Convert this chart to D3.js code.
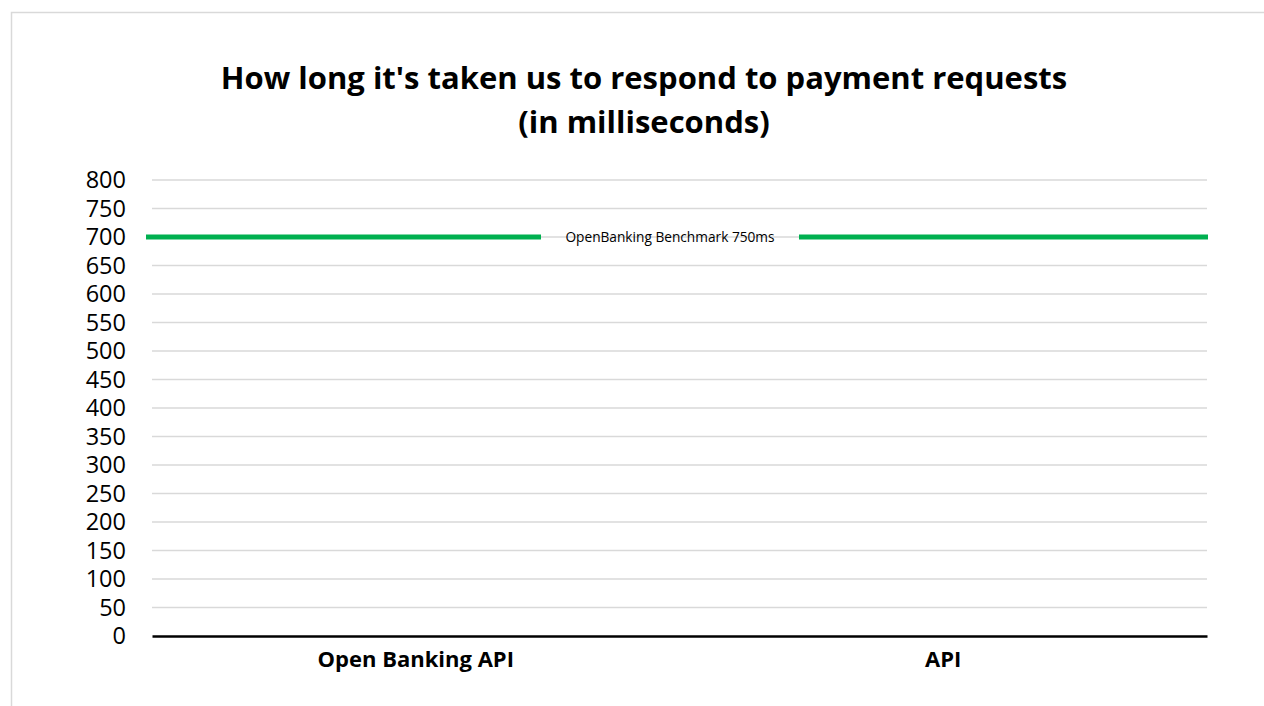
<!DOCTYPE html>
<html>
<head>
<meta charset="utf-8">
<script src="https://cdn.jsdelivr.net/npm/d3@7"></script>
<style>
  body { margin: 0; background: #fff; }
  svg { display: block; font-family: "Open Sans", sans-serif; }
</style>
</head>
<body>
<div id="chart"></div>
<script>
// Chart data
var categories = ["Open Banking API", "API"];
var responseTimes = [0, 0];
var benchmarkValue = 700;
var benchmarkLabel = "OpenBanking Benchmark 750ms";
var yTicks = d3.range(0, 801, 50);
var titleLines = ["How long it's taken us to respond to payment requests", "(in milliseconds)"];

var svgWidth = 1264;
var svgHeight = 706;

var margin = { top: 180, right: 57, bottom: 70, left: 152 };
var chartWidth = svgWidth - margin.left - margin.right;
var chartHeight = svgHeight - margin.top - margin.bottom;

var svg = d3.select("#chart")
    .append("svg")
    .attr("width", svgWidth)
    .attr("height", svgHeight);

// chart area border
svg.append("rect")
    .attr("x", 11.5)
    .attr("y", 12.5)
    .attr("width", svgWidth)
    .attr("height", svgHeight)
    .attr("fill", "none")
    .attr("stroke", "#d9d9d9")
    .attr("stroke-width", 1.5);

// title
svg.append("text")
    .attr("text-anchor", "middle")
    .attr("font-weight", "bold")
    .attr("font-size", 31)
    .attr("fill", "#000")
    .selectAll("tspan")
    .data(titleLines)
    .enter().append("tspan")
    .attr("x", 644)
    .attr("y", (d, i) => 89 + i * 44)
    .text(d => d);

var chartGroup = svg.append("g")
    .attr("transform", `translate(${margin.left}, ${margin.top})`);

var xScale = d3.scaleBand()
    .domain(categories)
    .range([0, chartWidth])
    .padding(0);

var yScale = d3.scaleLinear()
    .domain([0, 800])
    .range([chartHeight, 0]);

// gridlines
chartGroup.append("g")
    .selectAll("line")
    .data(yTicks.filter(d => d > 0))
    .enter().append("line")
    .attr("x1", 0)
    .attr("x2", chartWidth)
    .attr("y1", d => yScale(d))
    .attr("y2", d => yScale(d))
    .attr("stroke", "#d9d9d9")
    .attr("stroke-width", 1.5);

// left axis labels only
var leftAxis = d3.axisLeft(yScale).tickValues(yTicks).tickSize(0).tickPadding(26);
var yAxisG = chartGroup.append("g").call(leftAxis);
yAxisG.select(".domain").remove();
yAxisG.selectAll("text")
    .attr("font-family", "'Open Sans', sans-serif")
    .attr("font-size", 23.5)
    .attr("fill", "#000");

// bars (no visible height)
chartGroup.selectAll(".bar")
    .data(responseTimes)
    .enter().append("rect")
    .attr("class", "bar")
    .attr("x", (d, i) => xScale(categories[i]) + xScale.bandwidth() * 0.3)
    .attr("width", xScale.bandwidth() * 0.4)
    .attr("y", d => yScale(d))
    .attr("height", d => chartHeight - yScale(d))
    .attr("fill", "#4472c4");

// bottom axis
var bottomAxis = d3.axisBottom(xScale).tickSize(0).tickPadding(15);
var xAxisG = chartGroup.append("g")
    .attr("transform", `translate(0, ${chartHeight})`)
    .call(bottomAxis);
xAxisG.select(".domain")
    .attr("stroke", "#000")
    .attr("stroke-width", 2.5);
xAxisG.selectAll("text")
    .attr("font-family", "'Open Sans', sans-serif")
    .attr("font-size", 22)
    .attr("font-weight", "bold")
    .attr("fill", "#000");

// benchmark line with a gap for its label
var by = yScale(benchmarkValue);
var labelX = 518;
var gapHalf = 129;
chartGroup.append("line")
    .attr("x1", -6)
    .attr("x2", labelX - gapHalf)
    .attr("y1", by)
    .attr("y2", by)
    .attr("stroke", "#00b050")
    .attr("stroke-width", 5);
chartGroup.append("line")
    .attr("x1", labelX + gapHalf)
    .attr("x2", chartWidth + 1)
    .attr("y1", by)
    .attr("y2", by)
    .attr("stroke", "#00b050")
    .attr("stroke-width", 5);
chartGroup.append("text")
    .attr("x", labelX)
    .attr("y", by)
    .attr("dy", "0.35em")
    .attr("text-anchor", "middle")
    .attr("font-size", 13.7)
    .attr("fill", "#000")
    .text(benchmarkLabel);
</script>
</body>
</html>
